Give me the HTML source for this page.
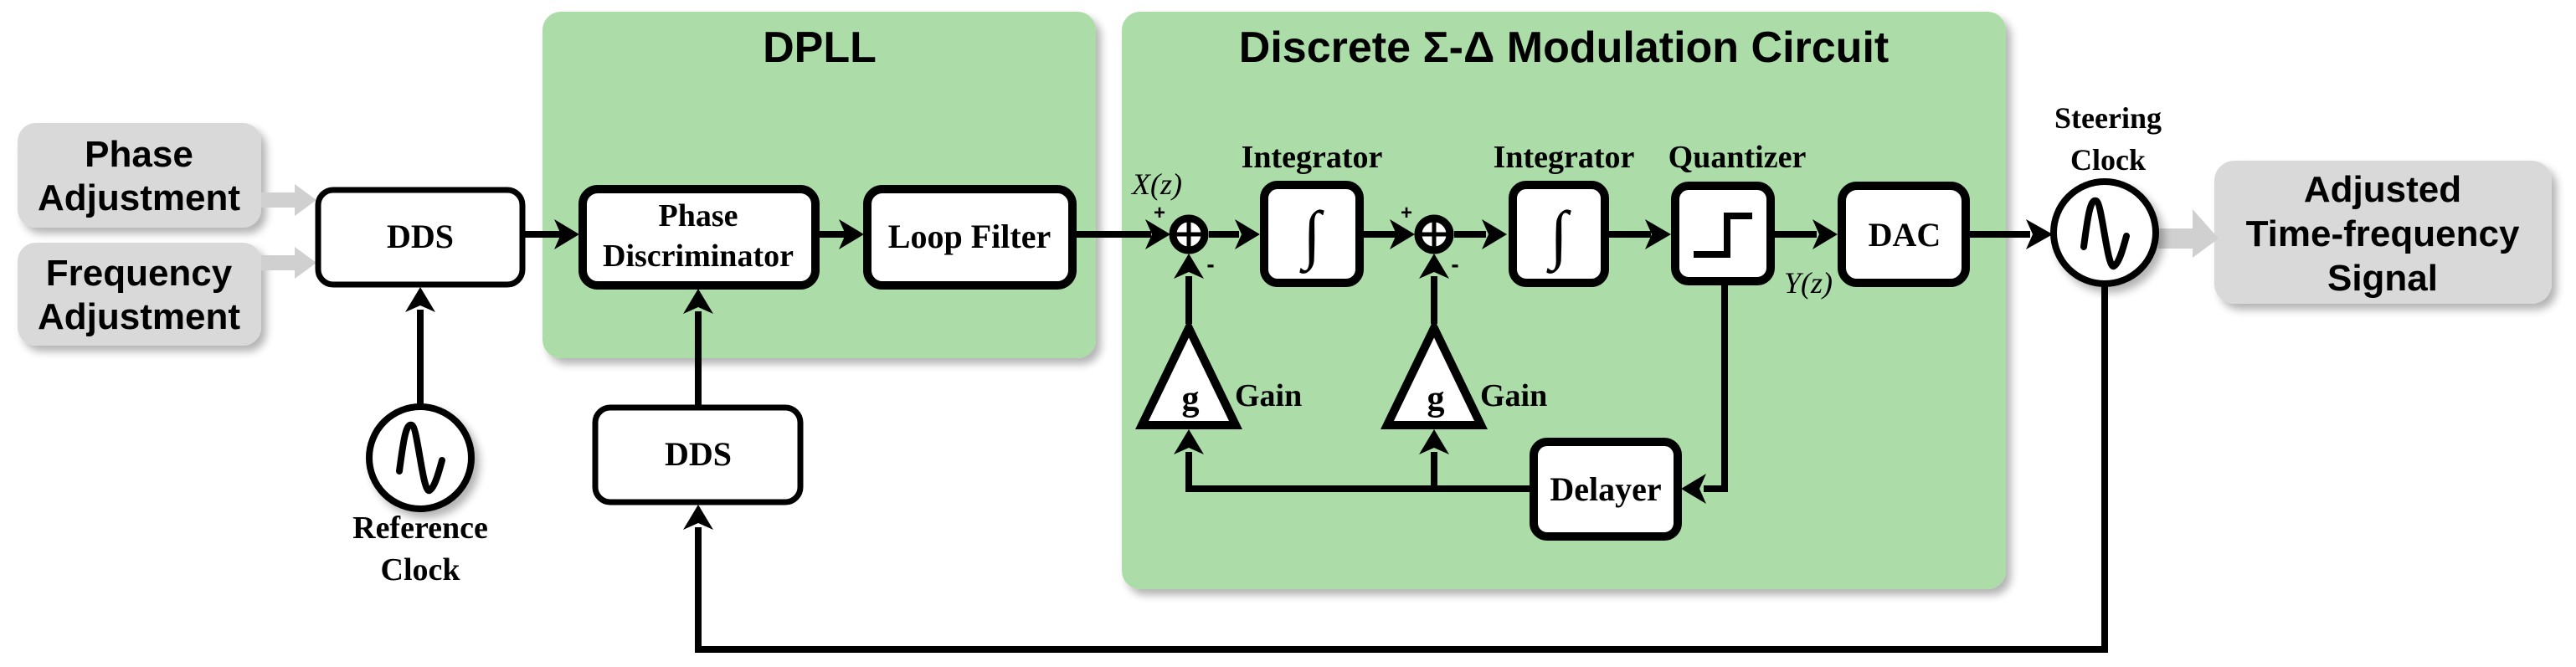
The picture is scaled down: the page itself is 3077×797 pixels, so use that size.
<!DOCTYPE html>
<html><head><meta charset="utf-8"><style>
html,body{margin:0;padding:0;background:#fff;}
svg{display:block;}
.tb{font-family:"Liberation Serif",serif;font-weight:bold;fill:#000;}
.sb{font-family:"Liberation Sans",sans-serif;font-weight:bold;fill:#000;}
</style></head><body>
<svg width="3077" height="797" viewBox="0 0 3077 797" xmlns="http://www.w3.org/2000/svg">
<defs>
<filter id="sh" x="-10%" y="-10%" width="130%" height="130%"><feGaussianBlur in="SourceAlpha" stdDeviation="5"/><feOffset dx="6" dy="7"/><feComponentTransfer><feFuncA type="linear" slope="0.3"/></feComponentTransfer><feMerge><feMergeNode/><feMergeNode in="SourceGraphic"/></feMerge></filter>
</defs>
<rect x="648" y="14" width="661" height="414" rx="22" fill="#acdda8" filter="url(#sh)"/>
<rect x="1340" y="14" width="1056" height="690" rx="22" fill="#acdda8" filter="url(#sh)"/>
<text x="979" y="74" text-anchor="middle" class="sb" font-size="52">DPLL</text>
<text x="1868" y="74" text-anchor="middle" class="sb" font-size="52">Discrete Σ-Δ Modulation Circuit</text>

<rect x="21" y="147" width="291" height="125" rx="22" fill="#d9d9d9" filter="url(#sh)"/>
<rect x="21" y="290" width="291" height="123" rx="22" fill="#d9d9d9" filter="url(#sh)"/>
<rect x="2645" y="192" width="403" height="171" rx="24" fill="#d9d9d9" filter="url(#sh)"/>
<text x="166" y="199" text-anchor="middle" class="sb" font-size="44">Phase</text>
<text x="166" y="251" text-anchor="middle" class="sb" font-size="44">Adjustment</text>
<text x="166" y="341" text-anchor="middle" class="sb" font-size="44">Frequency</text>
<text x="166" y="393" text-anchor="middle" class="sb" font-size="44">Adjustment</text>
<text x="2846" y="241" text-anchor="middle" class="sb" font-size="44">Adjusted</text>
<text x="2846" y="294" text-anchor="middle" class="sb" font-size="44">Time-frequency</text>
<text x="2846" y="347" text-anchor="middle" class="sb" font-size="44">Signal</text>

<g fill="#d0d0d0">
<rect x="312" y="230" width="45" height="18"/><polygon points="352,220 378,239 352,258"/>
<rect x="312" y="305" width="45" height="18"/><polygon points="352,295 378,314 352,333"/>
<rect x="2578" y="273" width="45" height="24"/><polygon points="2619,250 2650,285 2619,308"/>
</g>

<g stroke="#000" stroke-width="8" fill="none">
<line x1="627" y1="280" x2="670" y2="280"/>
<line x1="978" y1="280" x2="1010" y2="280"/>
<line x1="1285" y1="280" x2="1375" y2="280"/>
<line x1="1444" y1="280" x2="1480" y2="280"/>
<line x1="1628" y1="280" x2="1668" y2="280"/>
<line x1="1737" y1="280" x2="1775" y2="280"/>
<line x1="1921" y1="280" x2="1972" y2="280"/>
<line x1="2120" y1="280" x2="2170" y2="280"/>
<line x1="2352" y1="280" x2="2425" y2="280"/>
<line x1="502" y1="483" x2="502" y2="370"/>
<line x1="834" y1="484" x2="834" y2="372"/>
<polyline points="2514,341 2514,776 834,776 834,630"/>
<line x1="1420" y1="387" x2="1420" y2="330"/>
<line x1="1713" y1="387" x2="1713" y2="330"/>
<polyline points="2060,340 2060,584 2035,584"/>
<polyline points="1828,584 1420,584 1420,540"/>
<line x1="1713" y1="584" x2="1713" y2="540"/>
</g>
<g fill="#000">
<polygon points="662,262 692,280 662,298 670,280"/>
<polygon points="1002,262 1032,280 1002,298 1010,280"/>
<polygon points="1368,262 1398,280 1368,298 1376,280"/>
<polygon points="1475,262 1505,280 1475,298 1483,280"/>
<polygon points="1660,262 1690,280 1660,298 1668,280"/>
<polygon points="1770,262 1800,280 1770,298 1778,280"/>
<polygon points="1965,262 1996,280 1965,298 1973,280"/>
<polygon points="2165,262 2195,280 2165,298 2173,280"/>
<polygon points="2420,262 2452,280 2420,298 2428,280"/>
<polygon points="484,373 502,343 520,373 502,365"/>
<polygon points="816,375 834,345 852,375 834,367"/>
<polygon points="816,633 834,603 852,633 834,625"/>
<polygon points="1402,333 1420,303 1438,333 1420,325"/>
<polygon points="1695,333 1713,303 1731,333 1713,325"/>
<polygon points="1402,543 1420,513 1438,543 1420,535"/>
<polygon points="1695,543 1713,513 1731,543 1713,535"/>
<polygon points="2038,566 2008,584 2038,602 2030,584"/>
</g>

<g fill="#fff" stroke="#000">
<rect x="380" y="227" width="244" height="113" rx="18" stroke-width="7"/>
<rect x="696" y="226" width="278" height="115" rx="18" stroke-width="10"/>
<rect x="1036" y="226" width="245" height="115" rx="18" stroke-width="10"/>
<rect x="711" y="487" width="245" height="113" rx="18" stroke-width="7"/>
<rect x="1510" y="221" width="114" height="117" rx="16" stroke-width="10"/>
<rect x="1807" y="221" width="110" height="117" rx="16" stroke-width="10"/>
<rect x="2001" y="222" width="114" height="114" rx="16" stroke-width="10"/>
<rect x="2200" y="222" width="148" height="116" rx="18" stroke-width="10"/>
<rect x="1832" y="528" width="172" height="113" rx="16" stroke-width="10"/>
<circle cx="1420" cy="280" r="19" stroke-width="9"/>
<circle cx="1713" cy="280" r="19" stroke-width="9"/>
<polygon points="1420,392 1476,508 1364,508" stroke-width="10"/>
<polygon points="1713,392 1769,508 1657,508" stroke-width="10"/>
<circle cx="502" cy="547" r="61" stroke-width="8" filter="url(#sh)"/>
<circle cx="2514" cy="278" r="61" stroke-width="8" filter="url(#sh)"/>
</g>
<g stroke="#000" stroke-width="5">
<line x1="1420" y1="263" x2="1420" y2="297"/><line x1="1403" y1="280" x2="1437" y2="280"/>
<line x1="1713" y1="263" x2="1713" y2="297"/><line x1="1696" y1="280" x2="1730" y2="280"/>
</g>
<g stroke="#000" stroke-width="8" fill="none" stroke-linecap="round">
<path d="M477,563 C482,525 485,505 492,508 C499,511 505,590 513,586 C519,583 524,565 528,550"/>
<path d="M2489,295 C2494,257 2497,237 2504,240 C2511,243 2517,322 2525,318 C2531,315 2536,297 2540,282"/>
</g>
<polyline points="2023,304 2063,304 2063,258 2093,258" stroke="#000" stroke-width="8" fill="none"/>

<text x="502" y="296" text-anchor="middle" class="tb" font-size="40">DDS</text>
<text x="834" y="270" text-anchor="middle" class="tb" font-size="38">Phase</text>
<text x="834" y="318" text-anchor="middle" class="tb" font-size="38">Discriminator</text>
<text x="1158" y="296" text-anchor="middle" class="tb" font-size="40">Loop Filter</text>
<text x="834" y="556" text-anchor="middle" class="tb" font-size="40">DDS</text>
<text x="2275" y="294" text-anchor="middle" class="tb" font-size="40">DAC</text>
<text x="1918" y="598" text-anchor="middle" class="tb" font-size="40">Delayer</text>
<text x="1567" y="306" text-anchor="middle" font-family="Liberation Serif,serif" font-size="78">∫</text>
<text x="1862" y="306" text-anchor="middle" font-family="Liberation Serif,serif" font-size="78">∫</text>
<text x="1422" y="490" text-anchor="middle" class="tb" font-size="42">g</text>
<text x="1715" y="490" text-anchor="middle" class="tb" font-size="42">g</text>
<text x="1475" y="485" class="tb" font-size="38">Gain</text>
<text x="1768" y="485" class="tb" font-size="38">Gain</text>
<text x="1567" y="200" text-anchor="middle" class="tb" font-size="38">Integrator</text>
<text x="1868" y="200" text-anchor="middle" class="tb" font-size="38">Integrator</text>
<text x="2075" y="200" text-anchor="middle" class="tb" font-size="38">Quantizer</text>
<text x="2518" y="153" text-anchor="middle" class="tb" font-size="36">Steering</text>
<text x="2518" y="203" text-anchor="middle" class="tb" font-size="36">Clock</text>
<text x="502" y="643" text-anchor="middle" class="tb" font-size="38">Reference</text>
<text x="502" y="693" text-anchor="middle" class="tb" font-size="38">Clock</text>
<text x="1382" y="232" text-anchor="middle" font-family="Liberation Serif,serif" font-style="italic" font-size="36">X(z)</text>
<text x="2160" y="350" text-anchor="middle" font-family="Liberation Serif,serif" font-style="italic" font-size="36">Y(z)</text>
<text x="1385" y="262" text-anchor="middle" class="sb" font-size="24">+</text>
<text x="1680" y="262" text-anchor="middle" class="sb" font-size="24">+</text>
<text x="1446" y="325" text-anchor="middle" class="sb" font-size="28">-</text>
<text x="1738" y="325" text-anchor="middle" class="sb" font-size="28">-</text>
</svg>
</body></html>
